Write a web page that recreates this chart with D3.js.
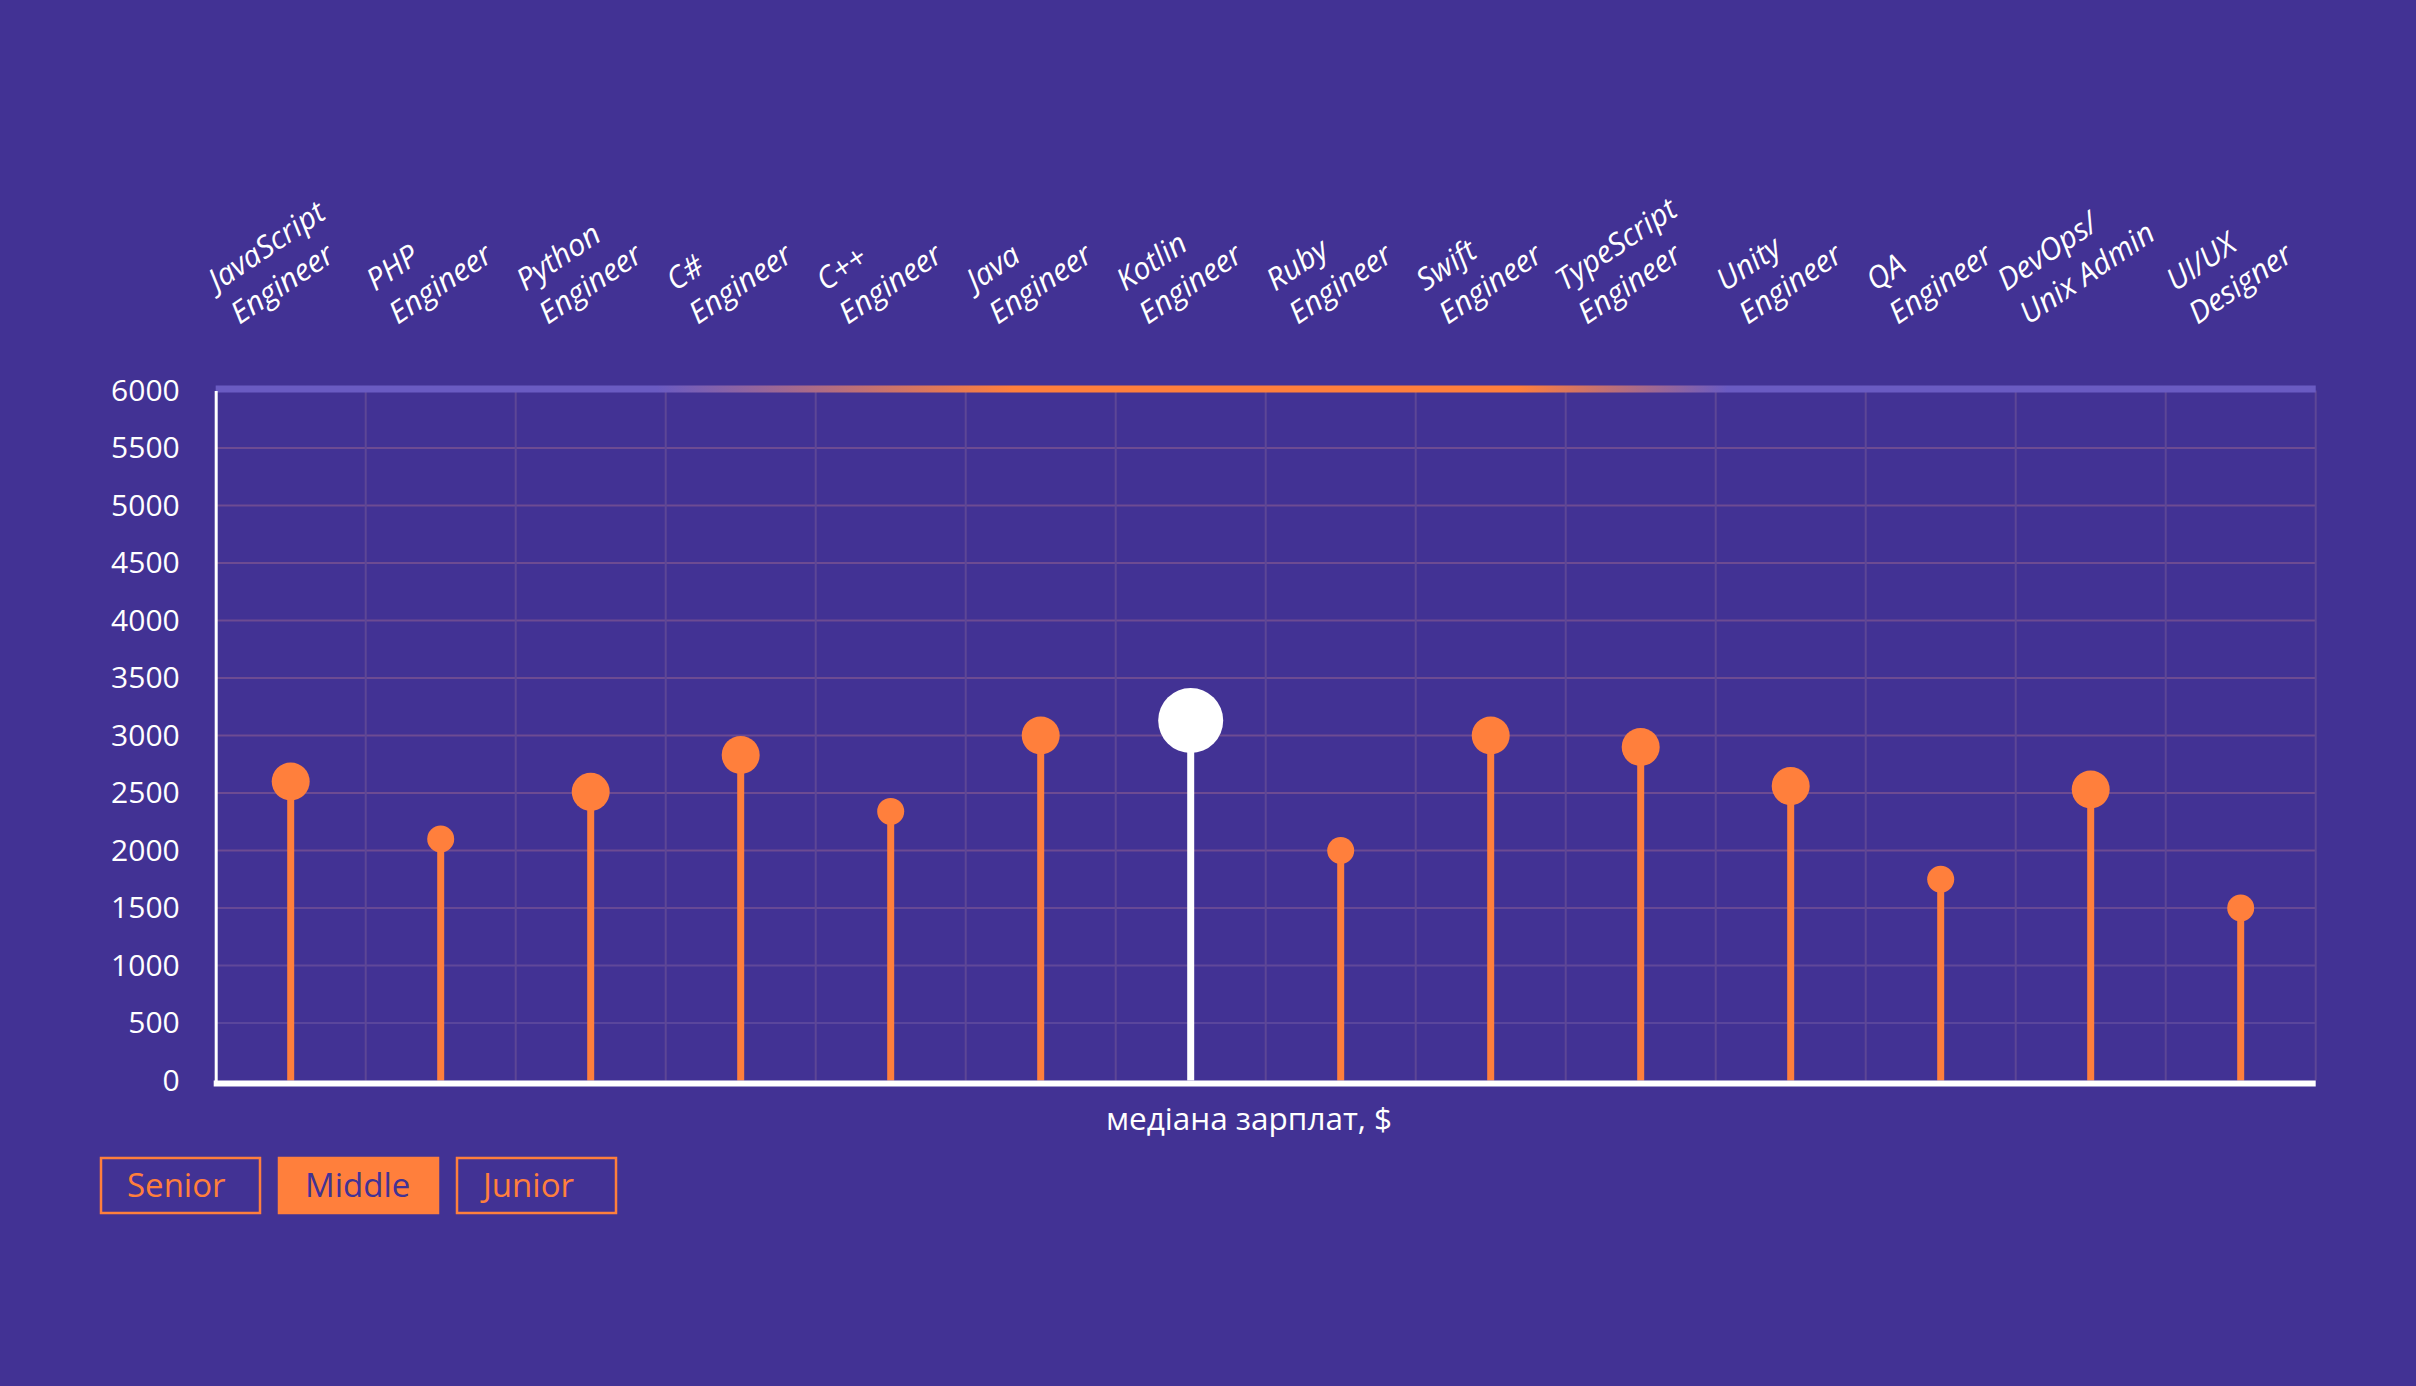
<!DOCTYPE html>
<html><head><meta charset="utf-8">
<script src="https://cdn.jsdelivr.net/npm/d3@7"></script>
<style>
html,body{margin:0;padding:0;background:#423294;overflow:hidden;}
svg{display:block;}
text{font-family:"Open Sans",sans-serif;}
</style></head><body>
<svg id="chart" width="2416" height="1386"></svg>
<script>
// ---- data ----
const categories = [
  "JavaScript\nEngineer", "PHP\nEngineer", "Python\nEngineer", "C#\nEngineer",
  "C++\nEngineer", "Java\nEngineer", "Kotlin\nEngineer", "Ruby\nEngineer",
  "Swift\nEngineer", "TypeScript\nEngineer", "Unity\nEngineer", "QA\nEngineer",
  "DevOps/\nUnix Admin", "UI/UX\nDesigner"
];
const medianSalary = [2600, 2100, 2510, 2830, 2340, 3000, 3130, 2000, 3000, 2900, 2560, 1750, 2530, 1500];
const respondentTier = [2, 1, 2, 2, 1, 2, 2, 1, 2, 2, 2, 1, 2, 1];
const highlighted = "Kotlin\nEngineer";
const yTicks = [0, 500, 1000, 1500, 2000, 2500, 3000, 3500, 4000, 4500, 5000, 5500, 6000];
const axisTitle = "медіана зарплат, $";
const levels = ["Senior", "Middle", "Junior"];
const activeLevel = "Middle";

// ---- styles ----
const BG = "#423294", ORANGE = "#ff7f3c", WHITE = "#ffffff", LAV = "#6a5bc2";

const svg = d3.select("#chart");
svg.append("rect").attr("width", 2416).attr("height", 1386).attr("fill", BG);

const L = 215.7, R = 2315.7, T = 390.5, B = 1080.5;
const x = d3.scaleBand().domain(categories).range([L, R]).paddingInner(0).paddingOuter(0);
const y = d3.scaleLinear().domain([0, 6000]).range([B, T]);
const rScale = d3.scaleOrdinal().domain([1, 2]).range([13.5, 19]);

const defs = svg.append("defs");
const grad = defs.append("linearGradient").attr("id", "bandGrad")
  .attr("gradientUnits", "userSpaceOnUse").attr("x1", L).attr("x2", R).attr("y1", 0).attr("y2", 0);
[[0, LAV], [0.21, LAV], [0.38, ORANGE], [0.62, ORANGE], [0.72, LAV], [1, LAV]]
  .forEach(([o, c]) => grad.append("stop").attr("offset", o).attr("stop-color", c));

// horizontal grid
const gridColor = d3.interpolateRgb("#53449f", "#6d4b92");
svg.append("g").selectAll("line").data(yTicks.filter(t => t > 0 && t < 6000)).join("line")
  .attr("x1", L).attr("x2", R).attr("y1", d => y(d)).attr("y2", d => y(d))
  .attr("stroke", d => gridColor(Math.min(1, d / 2000))).attr("stroke-width", 2);

// vertical grid
svg.append("g").selectAll("line").data(categories).join("line")
  .attr("x1", d => x(d) + x.bandwidth()).attr("x2", d => x(d) + x.bandwidth())
  .attr("y1", T).attr("y2", B)
  .attr("stroke", "#5d4796").attr("stroke-width", 2);

// top band
svg.append("rect").attr("x", L).attr("y", T - 5).attr("width", R - L).attr("height", 7)
  .attr("fill", "url(#bandGrad)");

// y axis
const yAxis = svg.append("g").attr("transform", `translate(${L},0)`)
  .call(d3.axisLeft(y).tickValues(yTicks).tickFormat(d3.format("d"))
    .tickSize(0).tickSizeOuter(0).tickPadding(36));
yAxis.select(".domain").attr("stroke", WHITE).attr("stroke-width", 3);
yAxis.selectAll("text").attr("fill", WHITE).attr("font-size", 30)
  .attr("font-family", "'Open Sans', sans-serif");

// stems
svg.append("g").selectAll("line").data(categories).join("line")
  .attr("x1", d => x(d) + x.bandwidth() / 2).attr("x2", d => x(d) + x.bandwidth() / 2)
  .attr("y1", y(0)).attr("y2", (d, i) => y(medianSalary[i]))
  .attr("stroke", d => d === highlighted ? WHITE : ORANGE).attr("stroke-width", 7);

// baseline
svg.append("line").attr("x1", L - 2).attr("x2", R).attr("y1", B + 3).attr("y2", B + 3)
  .attr("stroke", WHITE).attr("stroke-width", 6);

// dots
svg.append("g").selectAll("circle").data(categories).join("circle")
  .attr("cx", d => x(d) + x.bandwidth() / 2)
  .attr("cy", (d, i) => y(medianSalary[i]))
  .attr("r", (d, i) => d === highlighted ? 32.5 : rScale(respondentTier[i]))
  .attr("fill", d => d === highlighted ? WHITE : ORANGE);

// category labels
const FS = 30.5, LH = 40, ANG = 34;
const labG = svg.append("g");
const probe = labG.append("text").attr("font-size", FS).attr("font-style", "italic").text("Engineer");
const refW = probe.node().getComputedTextLength();
probe.remove();
categories.forEach(c => {
  const lines = c.split("\n");
  const g = labG.append("g");
  const ts = lines.map((ln, k) => g.append("text").attr("font-size", FS)
    .attr("font-style", "italic").attr("fill", WHITE)
    .attr("y", (k - (lines.length - 1)) * LH).text(ln));
  const maxW = d3.max(ts, t => t.node().getComputedTextLength());
  const shift = Math.max(0, maxW - refW) * 0.5;
  g.attr("transform", `translate(${x(c) + x.bandwidth() / 2 - 43 - shift},325) rotate(${-ANG})`);
});

// axis title
svg.append("text").attr("x", 1249).attr("y", 1130).attr("text-anchor", "middle")
  .attr("font-size", 31.5).attr("fill", WHITE).text(axisTitle);

// legend
const lg = svg.append("g");
levels.forEach((lv, i) => {
  const bx = 100 + i * 178, by = 1157;
  const active = lv === activeLevel;
  lg.append("rect").attr("x", bx + 1).attr("y", by + 1).attr("width", 159).attr("height", 55)
    .attr("fill", active ? ORANGE : "none").attr("stroke", ORANGE).attr("stroke-width", 2.5);
  lg.append("text").attr("x", bx + 27).attr("y", by + 40).attr("font-size", 33)
    .attr("fill", active ? BG : ORANGE).text(lv);
});
</script>
</body></html>
